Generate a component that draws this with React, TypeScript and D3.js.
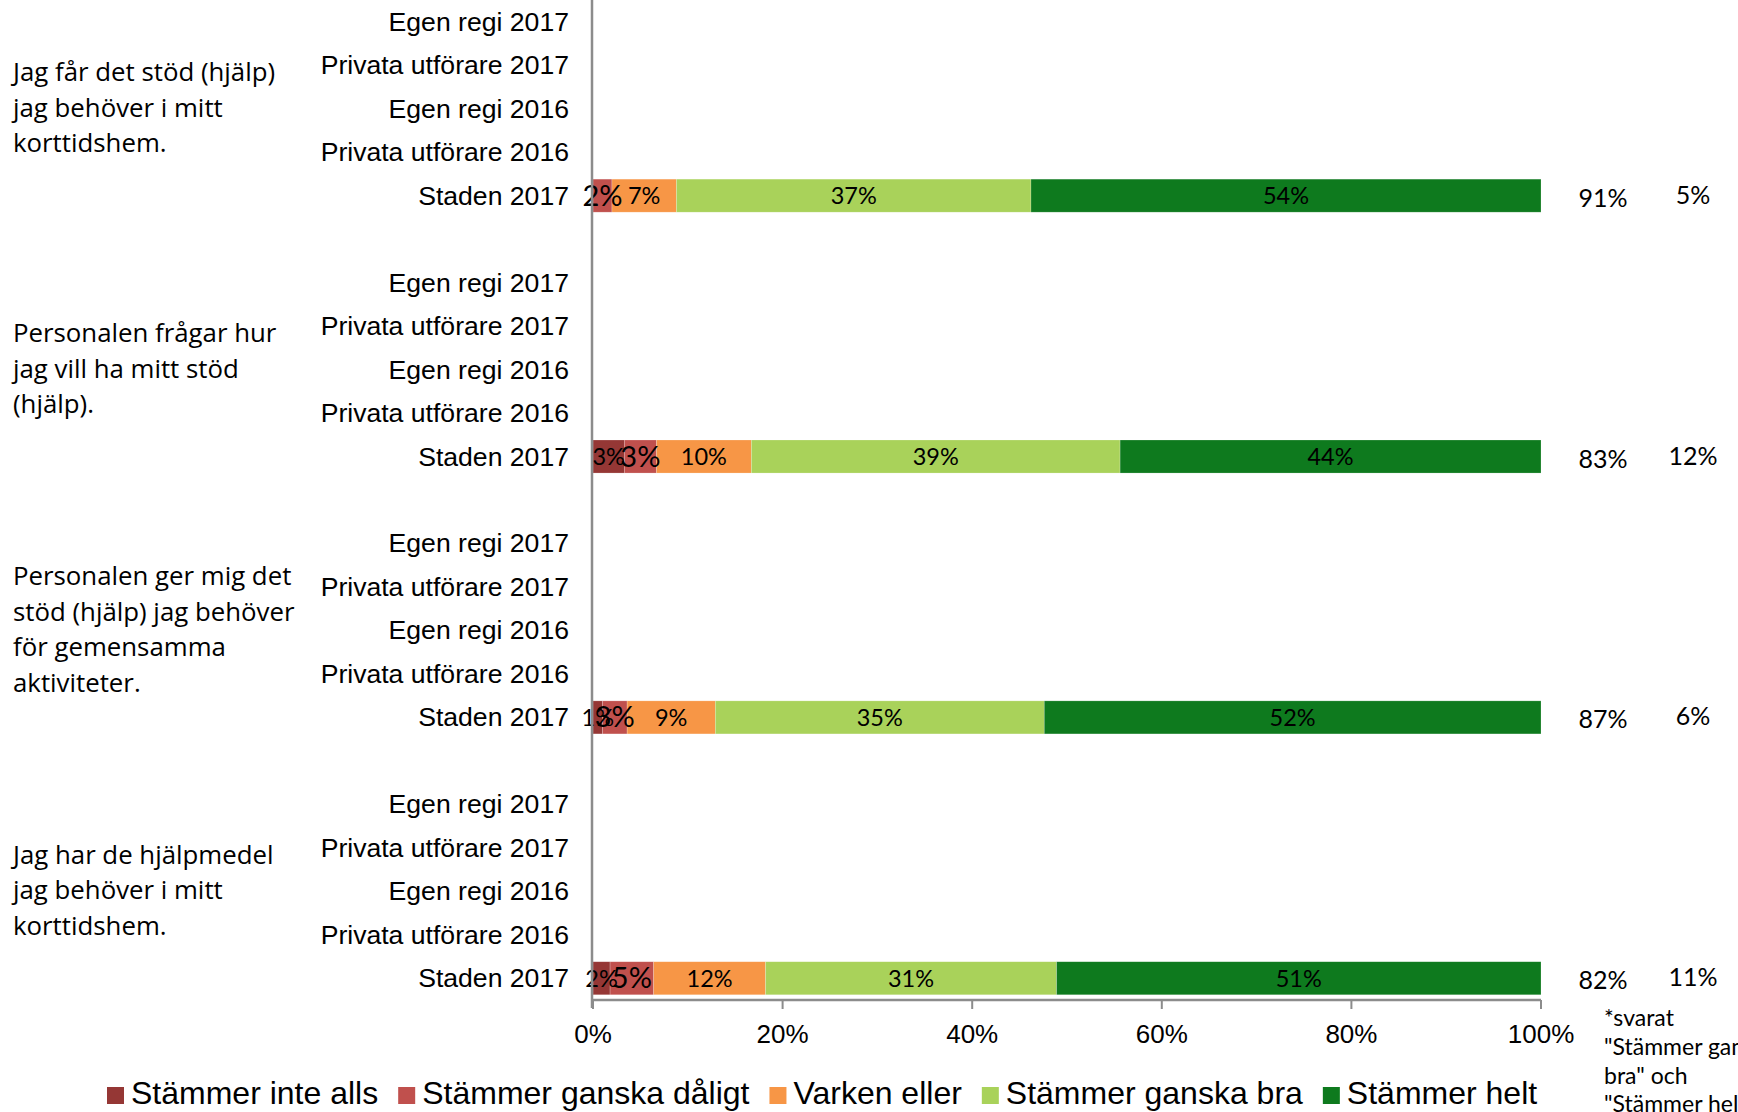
import React, { useRef, useEffect } from "react";
import * as d3 from "d3";

// chart data
const questions = [
  ["Jag får det stöd (hjälp)", "jag behöver i mitt", "korttidshem."],
  ["Personalen frågar hur", "jag vill ha mitt stöd", "(hjälp)."],
  ["Personalen ger mig det", "stöd (hjälp) jag behöver", "för gemensamma", "aktiviteter."],
  ["Jag har de hjälpmedel", "jag behöver i mitt", "korttidshem."],
];
const subCategories = ["Egen regi 2017", "Privata utförare 2017", "Egen regi 2016", "Privata utförare 2016", "Staden 2017"];
const seriesNames = ["Stämmer inte alls", "Stämmer ganska dåligt", "Varken eller", "Stämmer ganska bra", "Stämmer helt"];
const seriesColors = ["#953735", "#c0504d", "#f79646", "#a9d25a", "#0e7a1e"];

// Staden 2017 values per question (percent), one array per series
const inteAlls = [0, 3.3, 1.0, 1.8];
const ganskaDaligt = [2.0, 3.4, 2.6, 4.6];
const varkenEller = [6.8, 10.0, 9.3, 11.8];
const ganskaBra = [37.4, 38.9, 34.7, 30.7];
const helt = [53.8, 44.4, 52.4, 51.1];
const seriesValues = [inteAlls, ganskaDaligt, varkenEller, ganskaBra, helt];

const totalLabels = ["91%", "83%", "87%", "82%"];
const otherLabels = ["5%", "12%", "6%", "11%"];
const xTicks = [0, 20, 40, 60, 80, 100];
const footnote = ["*svarat", "\"Stämmer ganska", "bra\" och", "\"Stämmer helt\""];

const W = 1738;
const H = 1112;

export default function App() {
  const svgRef = useRef<SVGSVGElement>(null);

  useEffect(() => {
    const svg = d3.select(svgRef.current);
    svg.selectAll("*").remove();

    // rows: 5 per question plus a blank spacer between groups
    const rows: string[] = [];
    questions.forEach((_, qi) => {
      subCategories.forEach((s) => rows.push(`${qi}|${s}`));
      if (qi < questions.length - 1) rows.push(`${qi}|blank`);
    });

    const y = d3.scaleBand().domain(rows).range([0, 1000]).paddingInner(0.24).paddingOuter(0.12);
    const x = d3.scaleLinear().domain([0, 100]).range([593, 1541]);

    // category labels
    svg
      .append("g")
      .selectAll("text")
      .data(rows.filter((r) => !r.endsWith("blank")))
      .join("text")
      .attr("x", 569)
      .attr("y", (r) => y(r)! + y.bandwidth() / 2 + 9)
      .attr("text-anchor", "end")
      .attr("font-family", "Liberation Sans, Arial, sans-serif")
      .attr("font-size", 26.6)
      .attr("fill", "#000")
      .text((r) => r.split("|")[1]);

    // question labels
    questions.forEach((lines, qi) => {
      const top = y(`${qi}|${subCategories[0]}`)!;
      const bottom = y(`${qi}|${subCategories[4]}`)! + y.bandwidth();
      const mid = (top + bottom) / 2;
      const lh = 35.5;
      const start = mid - ((lines.length - 1) * lh) / 2 + 8;
      const t = svg
        .append("text")
        .attr("font-family", "Open Sans, Noto Sans, sans-serif")
        .attr("font-size", 25.8)
        .attr("fill", "#000");
      lines.forEach((l, i) => {
        t.append("tspan").attr("x", 13).attr("y", start + i * lh).text(l);
      });
    });

    // stacked bars
    const stackData = questions.map((_, qi) => {
      const row: any = { key: `${qi}|Staden 2017` };
      seriesNames.forEach((s, si) => (row[s] = seriesValues[si][qi]));
      return row;
    });
    const stacked = d3.stack().keys(seriesNames)(stackData);

    const layers = svg
      .append("g")
      .selectAll("g")
      .data(stacked)
      .join("g")
      .attr("fill", (_, i) => seriesColors[i]);

    layers
      .selectAll("rect")
      .data((d) => d)
      .join("rect")
      .attr("x", (d) => x(d[0]))
      .attr("y", (d: any) => y(d.data.key)!)
      .attr("width", (d) => x(d[1]) - x(d[0]))
      .attr("height", y.bandwidth())
      .attr("stroke", "#ffffff")
      .attr("stroke-opacity", 0.35)
      .attr("stroke-width", 0.6);

    // data labels
    stacked.forEach((layer, si) => {
      svg
        .append("g")
        .selectAll("text")
        .data(layer.filter((d) => d[1] - d[0] > 0))
        .join("text")
        .attr("x", (d) => (x(d[0]) + x(d[1])) / 2)
        .attr("y", (d: any) => y(d.data.key)! + y.bandwidth() / 2 + (si === 1 ? 10 : 8.5))
        .attr("text-anchor", "middle")
        .attr("font-family", "Lato, Carlito, sans-serif")
        .attr("font-size", si === 1 ? 29 : 23.5)
        .attr("fill", "#000")
        .text((d) => `${Math.round(d[1] - d[0])}%`);
    });

    // right-side summary labels
    questions.forEach((_, qi) => {
      const cy = y(`${qi}|Staden 2017`)! + y.bandwidth() / 2;
      svg
        .append("text")
        .attr("x", 1603)
        .attr("y", cy + 11)
        .attr("text-anchor", "middle")
        .attr("font-family", "Lato, Carlito, sans-serif")
        .attr("font-size", 25)
        .text(totalLabels[qi]);
      svg
        .append("text")
        .attr("x", 1693)
        .attr("y", cy + 8)
        .attr("text-anchor", "middle")
        .attr("font-family", "Lato, Carlito, sans-serif")
        .attr("font-size", 25)
        .text(otherLabels[qi]);
    });

    // axes
    const axisColor = "#8c8c8c";
    svg
      .append("line")
      .attr("x1", x(0) - 1)
      .attr("x2", x(0) - 1)
      .attr("y1", 0)
      .attr("y2", 1008)
      .attr("stroke", axisColor)
      .attr("stroke-width", 2.5);

    const xAxis = svg.append("g").attr("transform", "translate(0,1000)");
    xAxis
      .append("line")
      .attr("x1", x(0) - 1)
      .attr("x2", x(100))
      .attr("stroke", axisColor)
      .attr("stroke-width", 2.5);
    xAxis
      .selectAll("line.tick")
      .data(xTicks)
      .join("line")
      .attr("class", "tick")
      .attr("x1", (d) => x(d))
      .attr("x2", (d) => x(d))
      .attr("y1", 0)
      .attr("y2", 9)
      .attr("stroke", axisColor)
      .attr("stroke-width", 2);
    xAxis
      .selectAll("text")
      .data(xTicks)
      .join("text")
      .attr("x", (d) => x(d))
      .attr("y", 43)
      .attr("text-anchor", "middle")
      .attr("font-family", "Liberation Sans Narrow, Arial Narrow, Liberation Sans, sans-serif")
      .attr("font-size", 26)
      .text((d) => `${d}%`);

    // footnote
    const fn = svg
      .append("text")
      .attr("font-family", "Lato, Carlito, sans-serif")
      .attr("font-size", 23)
      .attr("fill", "#000");
    footnote.forEach((l, i) => {
      fn.append("tspan").attr("x", 1604).attr("y", 1026 + i * 28.8).text(l);
    });

    // legend
    const legend = svg.append("g").attr("transform", "translate(107,1104)");
    let lx = 0;
    seriesNames.forEach((name, i) => {
      const g = legend.append("g").attr("transform", `translate(${lx},0)`);
      g.append("rect").attr("x", 0).attr("y", -17).attr("width", 17).attr("height", 17).attr("fill", seriesColors[i]);
      const t = g
        .append("text")
        .attr("x", 24)
        .attr("y", 0)
        .attr("font-family", "Liberation Sans, Arial, sans-serif")
        .attr("font-size", 32)
        .text(name);
      const w = (t.node() as SVGTextElement).getComputedTextLength();
      lx += 24 + w + 20;
    });
  }, []);

  return (
    <svg
      ref={svgRef}
      width={W}
      height={H}
      style={{ position: "absolute", left: 0, top: 0, background: "#fff" }}
    />
  );
}
